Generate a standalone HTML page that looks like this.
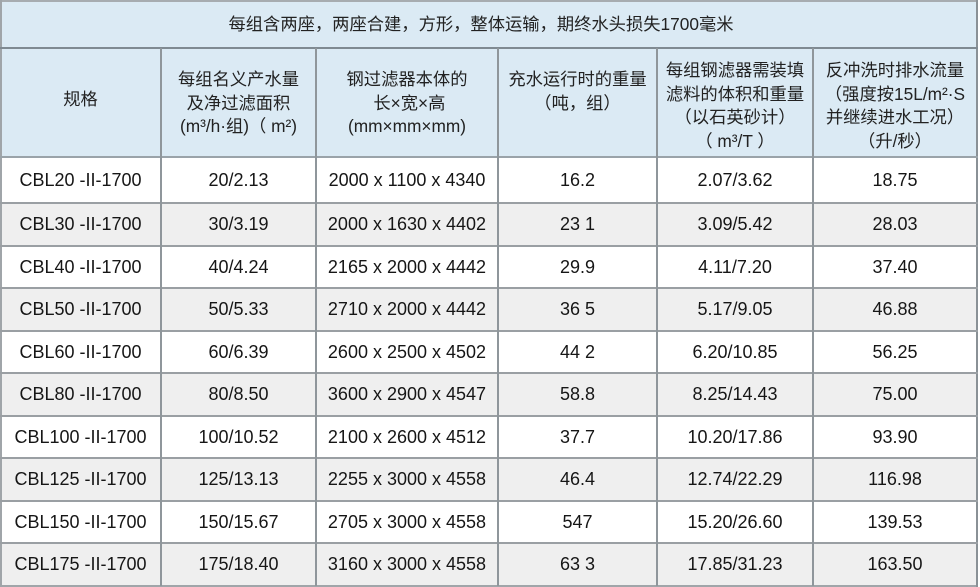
<!DOCTYPE html>
<html><head><meta charset="utf-8">
<style>
*{margin:0;padding:0;box-sizing:border-box}
body{width:980px;height:587px;background:#fff;position:relative;overflow:hidden;font-family:"Liberation Sans","Noto Sans CJK SC",sans-serif;color:#1e1e1e}
.bg{position:absolute}
.h{position:absolute;height:2px;background:#9a9fa3}
.v{position:absolute;width:2px;background:#8f969b}
.c{position:absolute;text-align:center;white-space:nowrap}
.t{font-size:17.3px;line-height:23.5px;color:#222}
.d{font-size:18px;line-height:20px;color:#161616}
</style></head><body>
<!-- backgrounds -->
<div class="bg" style="left:0;top:0;width:978px;height:157px;background:#dbeaf4"></div>
<div class="bg" style="left:0;top:203px;width:978px;height:42.5px;background:#efefef"></div>
<div class="bg" style="left:0;top:288.1px;width:978px;height:42.5px;background:#efefef"></div>
<div class="bg" style="left:0;top:373.2px;width:978px;height:42.5px;background:#efefef"></div>
<div class="bg" style="left:0;top:458.3px;width:978px;height:42.5px;background:#efefef"></div>
<div class="bg" style="left:0;top:543.4px;width:978px;height:42.5px;background:#efefef"></div>

<!-- outer border -->
<div class="h" style="left:0;top:0;width:978px;background:#a7acb0"></div>
<div class="h" style="left:0;top:585px;width:978px;background:#a0a5a9"></div>
<div class="v" style="left:0;top:0;height:587px;background:#a0a5a9"></div>
<div class="v" style="left:976px;top:0;height:587px;background:#8a9196"></div>

<!-- horizontal lines -->
<div class="h" style="left:0;top:47px;width:978px;background:#7f8a92"></div>
<div class="h" style="left:0;top:156px;width:978px;background:#9aa3a9"></div>
<div class="h" style="left:0;top:202px;width:978px"></div>
<div class="h" style="left:0;top:244.5px;width:978px"></div>
<div class="h" style="left:0;top:287px;width:978px"></div>
<div class="h" style="left:0;top:329.6px;width:978px"></div>
<div class="h" style="left:0;top:372.2px;width:978px"></div>
<div class="h" style="left:0;top:414.7px;width:978px"></div>
<div class="h" style="left:0;top:457.3px;width:978px"></div>
<div class="h" style="left:0;top:499.8px;width:978px"></div>
<div class="h" style="left:0;top:542.4px;width:978px"></div>

<!-- vertical lines -->
<div class="v" style="left:160px;top:48px;height:538px"></div>
<div class="v" style="left:315px;top:48px;height:538px"></div>
<div class="v" style="left:497px;top:48px;height:538px"></div>
<div class="v" style="left:656px;top:48px;height:538px"></div>
<div class="v" style="left:812px;top:48px;height:538px"></div>

<!-- title -->
<div class="c t" style="left:-8px;width:978px;top:13px">每组含两座，两座合建，方形，整体运输，期终水头损失1700毫米</div>

<!-- header -->
<div class="c t" style="left:0;width:161px;top:88px">规格</div>
<div class="c t" style="left:161px;width:155px;top:68px">每组名义产水量<br>及净过滤面积<br>(m³/h·组)（ m²)</div>
<div class="c t" style="left:316px;width:182px;top:68px">钢过滤器本体的<br>&nbsp;长×宽×高<br>(mm×mm×mm)</div>
<div class="c t" style="left:498px;width:159px;top:68px">充水运行时的重量<br>（吨，组）</div>
<div class="c t" style="left:657px;width:156px;top:59px">每组钢滤器需装填<br>滤料的体积和重量<br>（以石英砂计）<br>（ m³/T ）</div>
<div class="c t" style="left:813px;width:164px;top:59px">反冲洗时排水流量<br>（强度按15L/m²·S<br>并继续进水工况）<br>（升/秒）</div>

<!-- data rows -->
<div style="position:absolute;left:0;top:170px">
<div class="c d" style="left:0;width:161px">CBL20 -II-1700</div>
<div class="c d" style="left:161px;width:155px">20/2.13</div>
<div class="c d" style="left:316px;width:182px">2000 x 1100 x 4340</div>
<div class="c d" style="left:498px;width:159px">16.2</div>
<div class="c d" style="left:657px;width:156px">2.07/3.62</div>
<div class="c d" style="left:813px;width:164px">18.75</div>
</div>
<div style="position:absolute;left:0;top:214px">
<div class="c d" style="left:0;width:161px">CBL30 -II-1700</div>
<div class="c d" style="left:161px;width:155px">30/3.19</div>
<div class="c d" style="left:316px;width:182px">2000 x 1630 x 4402</div>
<div class="c d" style="left:498px;width:159px">23 1</div>
<div class="c d" style="left:657px;width:156px">3.09/5.42</div>
<div class="c d" style="left:813px;width:164px">28.03</div>
</div>
<div style="position:absolute;left:0;top:256.5px">
<div class="c d" style="left:0;width:161px">CBL40 -II-1700</div>
<div class="c d" style="left:161px;width:155px">40/4.24</div>
<div class="c d" style="left:316px;width:182px">2165 x 2000 x 4442</div>
<div class="c d" style="left:498px;width:159px">29.9</div>
<div class="c d" style="left:657px;width:156px">4.11/7.20</div>
<div class="c d" style="left:813px;width:164px">37.40</div>
</div>
<div style="position:absolute;left:0;top:299px">
<div class="c d" style="left:0;width:161px">CBL50 -II-1700</div>
<div class="c d" style="left:161px;width:155px">50/5.33</div>
<div class="c d" style="left:316px;width:182px">2710 x 2000 x 4442</div>
<div class="c d" style="left:498px;width:159px">36 5</div>
<div class="c d" style="left:657px;width:156px">5.17/9.05</div>
<div class="c d" style="left:813px;width:164px">46.88</div>
</div>
<div style="position:absolute;left:0;top:341.6px">
<div class="c d" style="left:0;width:161px">CBL60 -II-1700</div>
<div class="c d" style="left:161px;width:155px">60/6.39</div>
<div class="c d" style="left:316px;width:182px">2600 x 2500 x 4502</div>
<div class="c d" style="left:498px;width:159px">44 2</div>
<div class="c d" style="left:657px;width:156px">6.20/10.85</div>
<div class="c d" style="left:813px;width:164px">56.25</div>
</div>
<div style="position:absolute;left:0;top:384.2px">
<div class="c d" style="left:0;width:161px">CBL80 -II-1700</div>
<div class="c d" style="left:161px;width:155px">80/8.50</div>
<div class="c d" style="left:316px;width:182px">3600 x 2900 x 4547</div>
<div class="c d" style="left:498px;width:159px">58.8</div>
<div class="c d" style="left:657px;width:156px">8.25/14.43</div>
<div class="c d" style="left:813px;width:164px">75.00</div>
</div>
<div style="position:absolute;left:0;top:426.7px">
<div class="c d" style="left:0;width:161px">CBL100 -II-1700</div>
<div class="c d" style="left:161px;width:155px">100/10.52</div>
<div class="c d" style="left:316px;width:182px">2100 x 2600 x 4512</div>
<div class="c d" style="left:498px;width:159px">37.7</div>
<div class="c d" style="left:657px;width:156px">10.20/17.86</div>
<div class="c d" style="left:813px;width:164px">93.90</div>
</div>
<div style="position:absolute;left:0;top:469.3px">
<div class="c d" style="left:0;width:161px">CBL125 -II-1700</div>
<div class="c d" style="left:161px;width:155px">125/13.13</div>
<div class="c d" style="left:316px;width:182px">2255 x 3000 x 4558</div>
<div class="c d" style="left:498px;width:159px">46.4</div>
<div class="c d" style="left:657px;width:156px">12.74/22.29</div>
<div class="c d" style="left:813px;width:164px">116.98</div>
</div>
<div style="position:absolute;left:0;top:511.8px">
<div class="c d" style="left:0;width:161px">CBL150 -II-1700</div>
<div class="c d" style="left:161px;width:155px">150/15.67</div>
<div class="c d" style="left:316px;width:182px">2705 x 3000 x 4558</div>
<div class="c d" style="left:498px;width:159px">547</div>
<div class="c d" style="left:657px;width:156px">15.20/26.60</div>
<div class="c d" style="left:813px;width:164px">139.53</div>
</div>
<div style="position:absolute;left:0;top:554.4px">
<div class="c d" style="left:0;width:161px">CBL175 -II-1700</div>
<div class="c d" style="left:161px;width:155px">175/18.40</div>
<div class="c d" style="left:316px;width:182px">3160 x 3000 x 4558</div>
<div class="c d" style="left:498px;width:159px">63 3</div>
<div class="c d" style="left:657px;width:156px">17.85/31.23</div>
<div class="c d" style="left:813px;width:164px">163.50</div>
</div>
</body></html>
